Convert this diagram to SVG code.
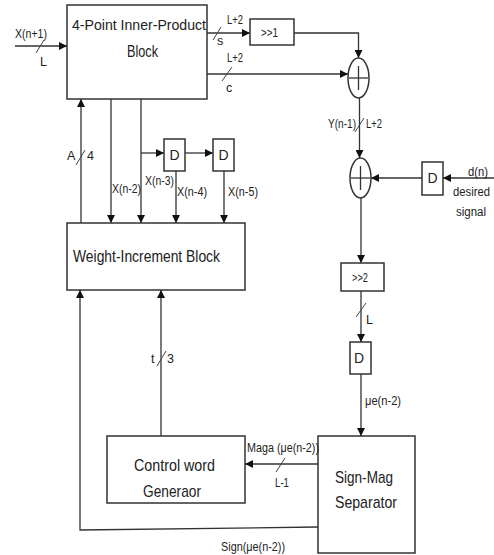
<svg xmlns="http://www.w3.org/2000/svg" width="494" height="555" viewBox="0 0 494 555">
<defs>
<marker id="ah" viewBox="0 0 10 10" refX="10" refY="5" markerWidth="8" markerHeight="8" markerUnits="userSpaceOnUse" orient="auto">
<path d="M0,0 L10,5 L0,10 z" fill="#111"/>
</marker>
<style>
.box{fill:#fff;stroke:#333;stroke-width:1.5}
.ln{fill:none;stroke:#333;stroke-width:1.3}
.ar{fill:none;stroke:#333;stroke-width:1.3;marker-end:url(#ah)}
.sl{stroke:#444;stroke-width:1}
text{font-family:"Liberation Sans",Arial,sans-serif;fill:#222}
.s{font-size:12.5px}
.m{font-size:14px}
.b{font-size:17px}
.c{text-anchor:middle}
</style>
</defs>
<rect width="494" height="555" fill="#fff"/>

<g id="connectors">
<line class="ar" x1="15" y1="46" x2="67" y2="46"/>
<line class="sl" x1="36" y1="53" x2="44" y2="40"/>
<line class="ar" x1="207" y1="33" x2="250" y2="33"/>
<line class="sl" x1="213" y1="40" x2="221" y2="27"/>
<polyline class="ar" points="294,33 358.5,33 358.5,58"/>
<line class="ar" x1="207" y1="74" x2="348" y2="74"/>
<line class="sl" x1="222" y1="81" x2="232" y2="67"/>
<line class="ar" x1="359.5" y1="98" x2="359.5" y2="158"/>
<line class="sl" x1="355" y1="132" x2="364" y2="118"/>
<line class="ar" x1="494" y1="178" x2="443" y2="178"/>
<line class="ar" x1="422" y1="178" x2="371" y2="178"/>
<line class="ar" x1="361" y1="198" x2="361" y2="263"/>
<line class="ar" x1="361" y1="291" x2="361" y2="342"/>
<line class="sl" x1="356" y1="317" x2="366" y2="303"/>
<line class="ar" x1="361" y1="374" x2="361" y2="436"/>
<line class="ar" x1="318" y1="464" x2="245" y2="464"/>
<line class="sl" x1="276" y1="472" x2="285" y2="458"/>
<polyline class="ar" points="318,527 80,530 80,290"/>
<line class="ar" x1="161" y1="436" x2="161" y2="290"/>
<line class="sl" x1="157" y1="366" x2="166" y2="351"/>
<line class="ar" x1="81" y1="223" x2="81" y2="99"/>
<line class="sl" x1="76" y1="165" x2="85" y2="150"/>
<line class="ar" x1="111" y1="99" x2="111" y2="223"/>
<line class="ar" x1="141" y1="99" x2="141" y2="223"/>
<line class="ar" x1="141" y1="153" x2="164" y2="153"/>
<line class="ar" x1="185" y1="153" x2="213" y2="153"/>
<line class="ar" x1="176" y1="171" x2="176" y2="223"/>
<line class="ar" x1="224" y1="171" x2="224" y2="223"/>
</g>

<g id="inner-product">
<rect class="box" x="67" y="5" width="140" height="94"/>
<text x="72" y="30" font-size="15.5" textLength="134" lengthAdjust="spacingAndGlyphs">4-Point Inner-Product</text>
<text class="b" x="127" y="57" textLength="31" lengthAdjust="spacingAndGlyphs">Block</text>
</g>
<g id="shift1">
<rect class="box" x="250" y="19" width="44" height="26"/>
<text class="s" x="261" y="37" textLength="17" lengthAdjust="spacingAndGlyphs">&gt;&gt;1</text>
</g>
<g id="adder1">
<ellipse class="box" cx="358.5" cy="78" rx="10.5" ry="20"/>
<line class="ln" x1="358.5" y1="66" x2="358.5" y2="90"/>
<line class="ln" x1="349" y1="78" x2="368" y2="78"/>
</g>
<g id="adder2">
<ellipse class="box" cx="360.5" cy="178" rx="10.5" ry="20"/>
<line class="ln" x1="360.5" y1="166" x2="360.5" y2="190"/>
<line class="ln" x1="351" y1="178" x2="370" y2="178"/>
</g>
<g id="delay-d">
<rect class="box" x="422" y="162" width="21" height="33"/>
<text class="m c" x="432.5" y="183">D</text>
</g>
<g id="shift2">
<rect class="box" x="341" y="263" width="43" height="28"/>
<text class="s" x="352" y="282" textLength="16" lengthAdjust="spacingAndGlyphs">&gt;&gt;2</text>
</g>
<g id="delay-e">
<rect class="box" x="350" y="342" width="21" height="32"/>
<text class="m c" x="359" y="363">D</text>
</g>
<g id="delay1">
<rect class="box" x="164" y="139" width="21" height="32"/>
<text class="m c" x="174.5" y="160">D</text>
</g>
<g id="delay2">
<rect class="box" x="213" y="139" width="21" height="32"/>
<text class="m c" x="223.5" y="160">D</text>
</g>
<g id="weight-increment">
<rect class="box" x="67" y="223" width="178" height="67"/>
<text class="b" x="73" y="262" textLength="147" lengthAdjust="spacingAndGlyphs">Weight-Increment Block</text>
</g>
<g id="control-word">
<rect class="box" x="107" y="436" width="138" height="67"/>
<text class="b" x="134" y="471" textLength="81" lengthAdjust="spacingAndGlyphs">Control word</text>
<text class="b" x="143" y="497" textLength="58" lengthAdjust="spacingAndGlyphs">Generaor</text>
</g>
<g id="sign-mag">
<rect class="box" x="318" y="436" width="97" height="117"/>
<text class="b" x="335" y="483" textLength="58" lengthAdjust="spacingAndGlyphs">Sign-Mag</text>
<text class="b" x="335" y="508" textLength="62" lengthAdjust="spacingAndGlyphs">Separator</text>
</g>

<g id="labels">
<text class="s" x="15" y="38" textLength="32" lengthAdjust="spacingAndGlyphs">X(n+1)</text>
<text class="s" x="40" y="66">L</text>
<text class="s" x="227" y="24" textLength="16" lengthAdjust="spacingAndGlyphs">L+2</text>
<text class="s" x="217" y="45">s</text>
<text class="s" x="227" y="62" textLength="16" lengthAdjust="spacingAndGlyphs">L+2</text>
<text class="s" x="226" y="92">c</text>
<text class="s" x="328" y="128" textLength="28" lengthAdjust="spacingAndGlyphs">Y(n-1)</text>
<text class="s" x="366" y="128" textLength="16" lengthAdjust="spacingAndGlyphs">L+2</text>
<text class="s" x="468" y="176" textLength="20" lengthAdjust="spacingAndGlyphs">d(n)</text>
<text class="s" x="453" y="196" textLength="37" lengthAdjust="spacingAndGlyphs">desired</text>
<text class="s" x="456" y="216" textLength="30" lengthAdjust="spacingAndGlyphs">signal</text>
<text class="s" x="67" y="160">A</text>
<text class="s" x="87" y="160">4</text>
<text class="s" x="112" y="193" textLength="29" lengthAdjust="spacingAndGlyphs">X(n-2)</text>
<text class="s" x="145" y="185" textLength="29" lengthAdjust="spacingAndGlyphs">X(n-3)</text>
<text class="s" x="177" y="196" textLength="30" lengthAdjust="spacingAndGlyphs">X(n-4)</text>
<text class="s" x="228" y="196" textLength="30" lengthAdjust="spacingAndGlyphs">X(n-5)</text>
<text class="s" x="366" y="324">L</text>
<text class="s" x="365" y="405" textLength="36" lengthAdjust="spacingAndGlyphs">μe(n-2)</text>
<text class="s" x="151" y="363">t</text>
<text class="s" x="167" y="363">3</text>
<text class="s" x="247" y="452" textLength="72" lengthAdjust="spacingAndGlyphs">Maga (μe(n-2))</text>
<text class="s" x="275" y="487" textLength="14" lengthAdjust="spacingAndGlyphs">L-1</text>
<text class="s" x="221" y="551" textLength="64" lengthAdjust="spacingAndGlyphs">Sign(μe(n-2))</text>
</g>
</svg>
